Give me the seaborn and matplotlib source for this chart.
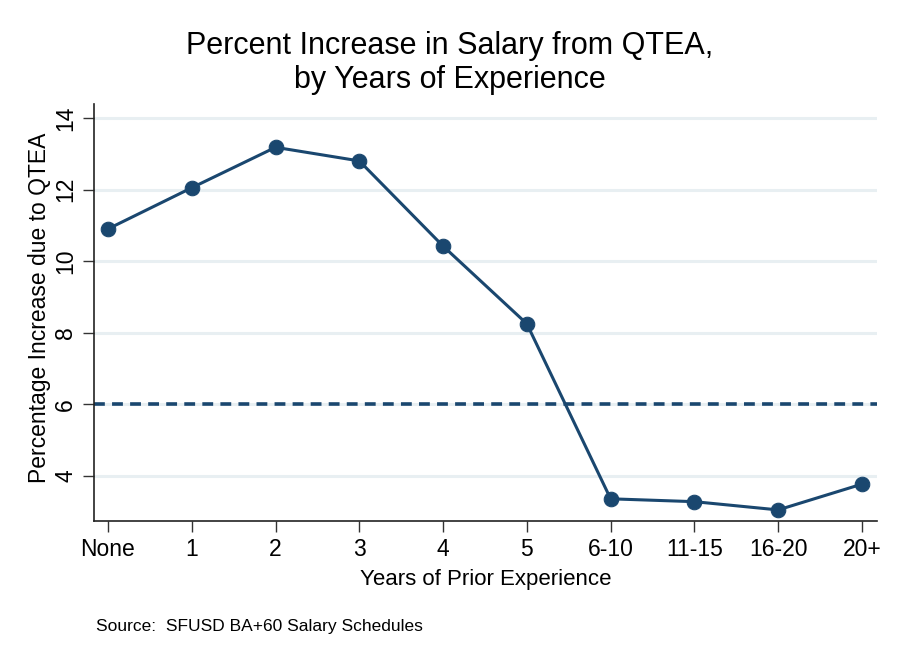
import matplotlib
matplotlib.use("Agg")
import matplotlib.pyplot as plt
import seaborn as sns
import pandas as pd

categories = ["None", "1", "2", "3", "4", "5", "6-10", "11-15", "16-20", "20+"]
pct_increase = [10.90, 12.05, 13.18, 12.80, 10.42, 8.25, 3.36, 3.28, 3.05, 3.77]
reference_level = 6.0
y_ticks = [4, 6, 8, 10, 12, 14]

df = pd.DataFrame({"pos": range(len(categories)), "exp": categories, "pct": pct_increase})

sns.set_theme(style="white")
plt.rcParams["font.family"] = ["Liberation Sans", "DejaVu Sans"]
plt.rcParams["text.color"] = "black"
plt.rcParams["axes.labelcolor"] = "black"
plt.rcParams["xtick.color"] = "black"
plt.rcParams["ytick.color"] = "black"

navy = "#1a476f"
fig = plt.figure(figsize=(8.99, 6.54), dpi=100)
ax = fig.add_axes([94/899, 1 - 521/654, (877-94)/899, (521-104)/654])

for t in y_ticks:
    ax.axhline(t, color="#e8eff2", lw=2.2, zorder=0)
ax.axhline(reference_level, color=navy, lw=2.6, ls=(0, (3, 2)), zorder=1)

sns.lineplot(data=df, x="pos", y="pct", ax=ax, color=navy, lw=2.2,
             marker="o", markersize=10.5, markeredgecolor=navy, zorder=3)

ax.set_xlim(-0.167, 9.18)
ax.set_ylim(2.74, 14.39)
ax.set_xticks(range(len(categories)))
ax.set_xticklabels(categories, fontsize=16.5)
ax.set_yticks(y_ticks)
ax.set_yticklabels([str(t) for t in y_ticks], fontsize=16.5, rotation=90, va="center")
ax.tick_params(axis="both", direction="out", length=8, width=1, color="#333333",
               left=True, bottom=True, pad=4)
for s in ["top", "right"]:
    ax.spines[s].set_visible(False)
for s in ["left", "bottom"]:
    ax.spines[s].set_color("#222222")
    ax.spines[s].set_linewidth(1.2)

ax.set_xlabel("Years of Prior Experience", fontsize=16, labelpad=6)
ax.set_ylabel("Percentage Increase due to QTEA", fontsize=16.5)
ax.yaxis.set_label_coords((40 - 94) / 783, (521 - 308) / 417)
ax.yaxis.label.set_va("center")

fig.text(0.5, 1 - 63/654, "Percent Increase in Salary from QTEA,\nby Years of Experience",
         ha="center", va="center", fontsize=22, linespacing=1.15)
fig.text(96/899, 1 - 626/654, "Source:  SFUSD BA+60 Salary Schedules", fontsize=12.5,
         ha="left", va="center")

fig.savefig("out.png", dpi=100, facecolor="white")
